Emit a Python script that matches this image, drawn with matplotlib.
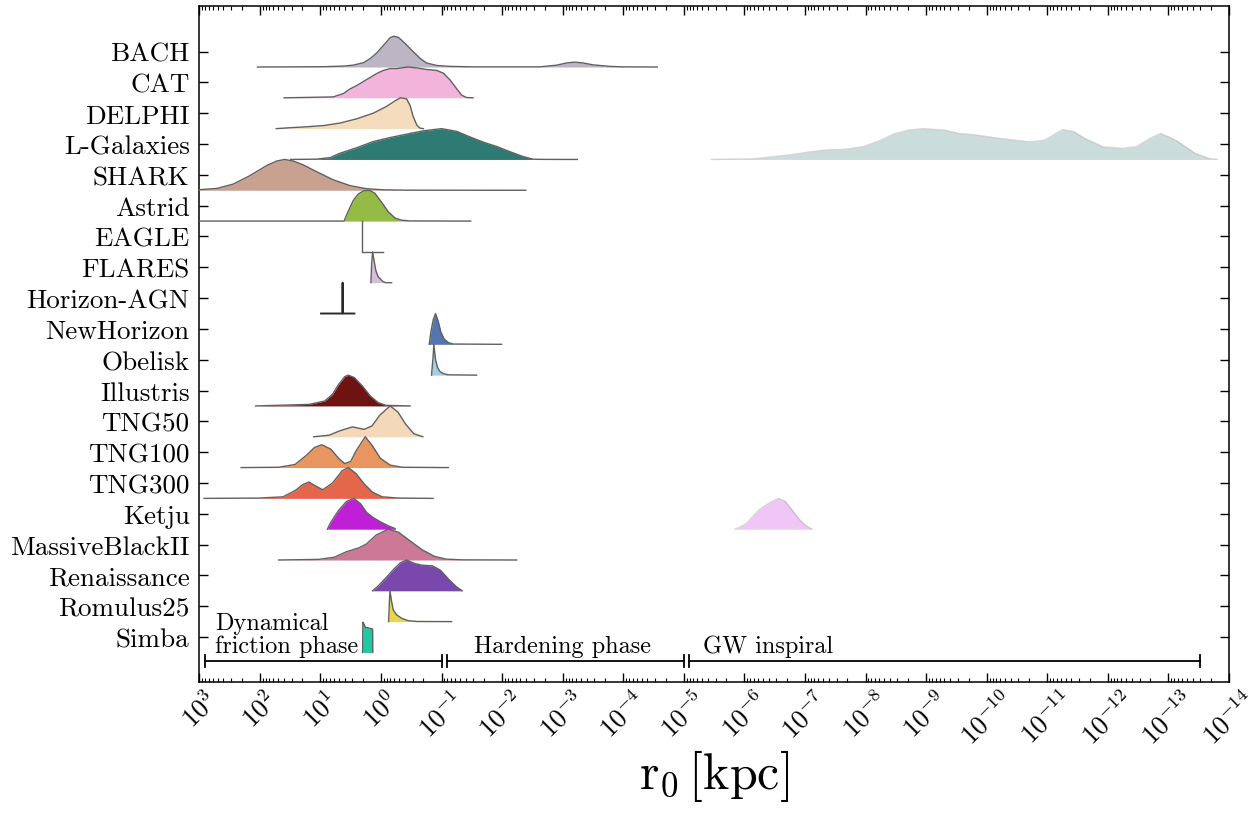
import numpy as np
import matplotlib
matplotlib.use("Agg")
import matplotlib.pyplot as plt
from matplotlib.ticker import FixedLocator, LogLocator, NullFormatter

plt.rcParams.update({
    "font.family": "serif",
    "font.serif": ["cmr10", "DejaVu Serif"],
    "mathtext.fontset": "cm",
    "axes.unicode_minus": False,
    "axes.formatter.use_mathtext": True,
})

# ---------------- data (log10 r0 [kpc] vs normalised density) ----------------
simulations = ["BACH", "CAT", "DELPHI", "L-Galaxies", "SHARK", "Astrid", "EAGLE",
               "FLARES", "Horizon-AGN", "NewHorizon", "Obelisk", "Illustris", "TNG50",
               "TNG100", "TNG300", "Ketju", "MassiveBlackII", "Renaissance",
               "Romulus25", "Simba"]

colors = ["#bcb5c4", "#f3b4dc", "#f5dcbd", "#2e7b74", "#c9a191", "#93bb45", "#b0b0b0",
          "#d6bed8", "#1c2c4c", "#5476ad", "#a3cfe6", "#6e1212", "#f5d7b9",
          "#e99560", "#e5674b", "#c01fd8", "#cc7896", "#7a48ac", "#e9d54c", "#1fc9a1"]

bach_logr = [2.04, 0.95, 0.62, 0.46, 0.29, 0.18, 0.07, -0.04, -0.15, -0.21, -0.29, -0.40,
             -0.51, -0.64, -0.75, -0.92, -1.14, -1.52, -2.62, -2.90, -3.06, -3.20, -3.34,
             -3.50, -3.78, -4.00, -4.56]
bach_h = [0, 0.01, 0.03, 0.06, 0.14, 0.27, 0.46, 0.70, 0.95, 1.0, 0.96, 0.76, 0.54, 0.29,
          0.13, 0.05, 0.02, 0.005, 0.005, 0.06, 0.13, 0.16, 0.13, 0.07, 0.02, 0.005, 0]

cat_logr = [1.60, 0.79, 0.62, 0.51, 0.40, 0.29, 0.18, 0.07, -0.04, -0.15, -0.26, -0.37,
            -0.45, -0.59, -0.75, -0.92, -1.03, -1.14, -1.25, -1.33, -1.41, -1.52]
cat_h = [0, 0.03, 0.14, 0.29, 0.40, 0.53, 0.66, 0.79, 0.89, 0.95, 0.95, 0.98, 1.0, 0.97,
         0.92, 0.89, 0.80, 0.58, 0.29, 0.09, 0.01, 0]

delphi_logr = [1.73, 1.50, 1.23, 0.95, 0.68, 0.40, 0.13, -0.09, -0.23, -0.32, -0.42,
               -0.48, -0.53, -0.59, -0.64, -0.70]
delphi_h = [0, 0.03, 0.06, 0.10, 0.18, 0.32, 0.50, 0.72, 0.90, 1.0, 0.97, 0.75, 0.40,
            0.12, 0.02, 0]

lgal_logr = [1.49, 1.06, 0.84, 0.68, 0.40, 0.13, -0.15, -0.42, -0.70, -1.00, -1.25,
             -1.52, -1.69, -1.91, -2.13, -2.35, -2.51, -2.68, -3.24]
lgal_h = [0, 0.01, 0.06, 0.20, 0.38, 0.58, 0.71, 0.82, 0.93, 1.0, 0.91, 0.69, 0.56, 0.42,
          0.25, 0.09, 0.01, 0.002, 0]

lgal2_logr = [-5.45, -6.15, -6.76, -7.06, -7.36, -7.67, -7.97, -8.22, -8.46, -8.70, -8.94,
              -9.31, -9.55, -9.80, -10.22, -10.71, -10.95, -11.25, -11.44, -11.62,
              -11.92, -12.23, -12.47, -12.71, -12.87, -13.02, -13.14, -13.44, -13.69,
              -13.81]
lgal2_h = [0, 0.02, 0.15, 0.24, 0.31, 0.33, 0.42, 0.60, 0.82, 0.95, 1.0, 0.95, 0.84,
           0.80, 0.68, 0.57, 0.62, 0.97, 0.90, 0.68, 0.41, 0.36, 0.41, 0.70, 0.84, 0.72,
           0.60, 0.20, 0.02, 0]

shark_logr = [3.10, 2.99, 2.71, 2.44, 2.16, 1.89, 1.72, 1.59, 1.45, 1.28, 1.06, 0.79,
              0.51, 0.24, -0.04, -0.42, -2.39]
shark_h = [0.01, 0.02, 0.06, 0.20, 0.48, 0.80, 0.95, 1.0, 0.95, 0.82, 0.60, 0.34, 0.15,
           0.05, 0.015, 0.003, 0]

astrid_logr = [2.99, 0.61, 0.57, 0.51, 0.46, 0.38, 0.29, 0.19, 0.10, -0.01, -0.12,
               -0.23, -0.34, -0.48, -1.48]
astrid_h = [0, 0, 0.19, 0.45, 0.66, 0.87, 0.98, 1.0, 0.90, 0.61, 0.30, 0.10, 0.03,
            0.005, 0]

eagle_logr = [0.32, 0.32, -0.04]
eagle_h = [1.0, 0, 0]

flares_logr = [0.167, 0.155, 0.139, 0.117, 0.084, 0.046, -0.036, -0.08, -0.175]
flares_h = [0, 0.6, 1.0, 0.74, 0.38, 0.19, 0.03, 0, 0]

hagn_logr = [0.99, 0.64, 0.634, 0.628, 0.44]
hagn_h = [0, 0, 1.0, 0, 0]

newhor_logr = [-0.796, -0.823, -0.862, -0.90, -0.944, -0.988, -1.043, -1.11, -1.19, -1.99]
newhor_h = [0, 0.4, 0.8, 1.0, 0.75, 0.4, 0.17, 0.06, 0.01, 0]

obelisk_logr = [-0.834, -0.86, -0.872, -0.90, -0.933, -0.972, -1.027, -1.11, -1.577]
obelisk_h = [0, 0.6, 1.0, 0.5, 0.25, 0.12, 0.05, 0.01, 0]

illustris_logr = [2.07, 1.19, 0.93, 0.80, 0.70, 0.60, 0.54, 0.44, 0.31, 0.18, 0.05,
                  -0.08, -0.48]
illustris_h = [0, 0.05, 0.16, 0.38, 0.70, 0.95, 1.0, 0.92, 0.65, 0.33, 0.11, 0.02, 0]

tng50_logr = [1.11, 0.86, 0.67, 0.47, 0.28, 0.15, 0.02, -0.15, -0.28, -0.41, -0.54, -0.69]
tng50_h = [0, 0.05, 0.20, 0.32, 0.24, 0.35, 0.70, 1.0, 0.80, 0.40, 0.10, 0]

tng100_logr = [2.31, 1.69, 1.42, 1.23, 1.10, 0.98, 0.83, 0.70, 0.60, 0.50, 0.41, 0.26,
               0.14, 0.01, -0.15, -0.35, -1.11]
tng100_h = [0, 0.01, 0.10, 0.40, 0.65, 0.74, 0.60, 0.30, 0.13, 0.20, 0.55, 1.0, 0.70,
            0.30, 0.08, 0.01, 0]

tng300_logr = [2.92, 2.02, 1.62, 1.42, 1.29, 1.19, 1.06, 0.96, 0.80, 0.64, 0.54, 0.41,
               0.27, 0.14, -0.02, -0.29, -0.86]
tng300_h = [0, 0.01, 0.05, 0.25, 0.45, 0.53, 0.38, 0.28, 0.50, 0.90, 1.0, 0.80, 0.45,
            0.20, 0.05, 0.01, 0]

ketju_logr = [0.885, 0.83, 0.70, 0.57, 0.45, 0.34, 0.24, 0.14, 0.01, -0.12, -0.233, -0.235]
ketju_h = [0, 0.22, 0.61, 0.90, 1.0, 0.83, 0.55, 0.39, 0.24, 0.11, 0.02, 0]

ketju2_logr = [-5.84, -5.92, -6.03, -6.14, -6.25, -6.39, -6.555, -6.665, -6.80, -6.91,
               -7.02, -7.116]
ketju2_h = [0, 0.06, 0.18, 0.42, 0.64, 0.83, 1.0, 0.92, 0.59, 0.31, 0.11, 0]

mbii_logr = [1.69, 1.03, 0.77, 0.57, 0.37, 0.24, 0.08, -0.12, -0.29, -0.48, -0.68,
             -0.88, -1.07, -1.34, -2.24]
mbii_h = [0, 0.02, 0.09, 0.27, 0.39, 0.52, 0.81, 1.0, 0.90, 0.62, 0.33, 0.12, 0.03,
          0.005, 0]

ren_logr = [0.14, 0.04, -0.09, -0.22, -0.32, -0.42, -0.55, -0.68, -0.85, -0.98, -1.11,
            -1.24, -1.34]
ren_h = [0, 0.17, 0.44, 0.72, 0.91, 1.0, 0.89, 0.83, 0.81, 0.67, 0.39, 0.14, 0]

rom_logr = [-0.125, -0.14, -0.147, -0.175, -0.202, -0.257, -0.34, -0.45, -0.59, -1.165]
rom_h = [0, 0.7, 1.0, 0.65, 0.38, 0.22, 0.11, 0.03, 0.005, 0]

simba_logr = [0.304, 0.300, 0.282, 0.26, 0.139, 0.137]
simba_h = [0, 0.98, 0.92, 0.82, 0.76, 0]

ridges = {
    "BACH": [(bach_logr, bach_h, 1.0)],
    "CAT": [(cat_logr, cat_h, 1.0)],
    "DELPHI": [(delphi_logr, delphi_h, 1.0)],
    "L-Galaxies": [(lgal_logr, lgal_h, 1.0), (lgal2_logr, lgal2_h, 0.25)],
    "SHARK": [(shark_logr, shark_h, 1.0)],
    "Astrid": [(astrid_logr, astrid_h, 1.0)],
    "EAGLE": [(eagle_logr, eagle_h, 1.0)],
    "FLARES": [(flares_logr, flares_h, 1.0)],
    "Horizon-AGN": [(hagn_logr, hagn_h, 1.0)],
    "NewHorizon": [(newhor_logr, newhor_h, 1.0)],
    "Obelisk": [(obelisk_logr, obelisk_h, 1.0)],
    "Illustris": [(illustris_logr, illustris_h, 1.0)],
    "TNG50": [(tng50_logr, tng50_h, 1.0)],
    "TNG100": [(tng100_logr, tng100_h, 1.0)],
    "TNG300": [(tng300_logr, tng300_h, 1.0)],
    "Ketju": [(ketju_logr, ketju_h, 1.0), (ketju2_logr, ketju2_h, 0.25)],
    "MassiveBlackII": [(mbii_logr, mbii_h, 1.0)],
    "Renaissance": [(ren_logr, ren_h, 1.0)],
    "Romulus25": [(rom_logr, rom_h, 1.0)],
    "Simba": [(simba_logr, simba_h, 1.0)],
}

xtick_exponents = list(range(3, -15, -1))

phase_names = ["Dynamical", "friction phase", "Hardening phase", "GW inspiral"]
phase_bounds = [(2.9, -1.0), (-1.087, -5.008), (-5.09, -13.52)]

# ---------------- figure ----------------
fig = plt.figure(figsize=(12.59, 8.28), dpi=100)
ax = fig.add_axes([0.1583, 0.1751, 0.8179, 0.8168])
ax.set_xscale("log")

n = len(simulations)
for i, name in enumerate(simulations):
    ytick = n - 1 - i
    base = ytick - 0.5
    for logr, h, alpha in ridges[name]:
        r = 10.0 ** np.array(logr)
        top = base + np.array(h)
        ax.fill_between(r, base, top, color=colors[i], alpha=alpha, lw=0, zorder=2 + i)
        ec = "#2a2a2a" if name == "Horizon-AGN" else "#606060"
        lw = 1.4 if name == "Horizon-AGN" else 1.0
        ax.plot(r, top, color=ec, lw=lw, alpha=alpha, zorder=2.5 + i,
                solid_joinstyle="round")

ax.set_xlim(1e3, 1e-14)
ax.set_ylim(-1.46, 20.49)

ax.xaxis.set_major_locator(FixedLocator([10.0 ** k for k in xtick_exponents]))
ax.set_xticklabels([r"$10^{%d}$" % k for k in xtick_exponents], rotation=45,
                   fontsize=19)
ax.xaxis.set_minor_locator(LogLocator(base=10, subs=np.arange(2, 10) * 1.0, numticks=200))
ax.xaxis.set_minor_formatter(NullFormatter())

ax.set_yticks([n - 1 - i for i in range(n)])
ax.set_yticklabels(simulations, fontsize=19.5)

ax.tick_params(axis="both", which="both", direction="in", top=True, right=True)
ax.tick_params(axis="both", which="major", length=6.5, width=1.0)
ax.tick_params(axis="x", which="minor", length=3, width=0.8)
ax.tick_params(axis="y", which="minor", left=False, right=False)
ax.tick_params(axis="y", which="major", pad=7)
ax.tick_params(axis="x", which="major", pad=3)
for s in ax.spines.values():
    s.set_linewidth(1.1)

ax.set_xlabel(r"$\mathrm{r_0\,[kpc]}$", fontsize=36, labelpad=-1)

# phase brackets
yb = -0.78
for a, b in phase_bounds:
    ax.plot([10 ** a, 10 ** b], [yb, yb], color="k", lw=1.3, zorder=30)
    for e in (a, b):
        ax.plot([10 ** e, 10 ** e], [yb - 0.2, yb + 0.2], color="k", lw=1.3, zorder=30)

ax.text(10 ** 2.74, 0.26, phase_names[0], fontsize=17.5, ha="left", va="baseline")
ax.text(10 ** 2.74, -0.48, phase_names[1], fontsize=17.5, ha="left", va="baseline")
ax.text(10 ** -1.53, -0.48, phase_names[2], fontsize=17.5, ha="left", va="baseline")
ax.text(10 ** -5.31, -0.48, phase_names[3], fontsize=17.5, ha="left", va="baseline")

fig.savefig("out.png", dpi=100)
